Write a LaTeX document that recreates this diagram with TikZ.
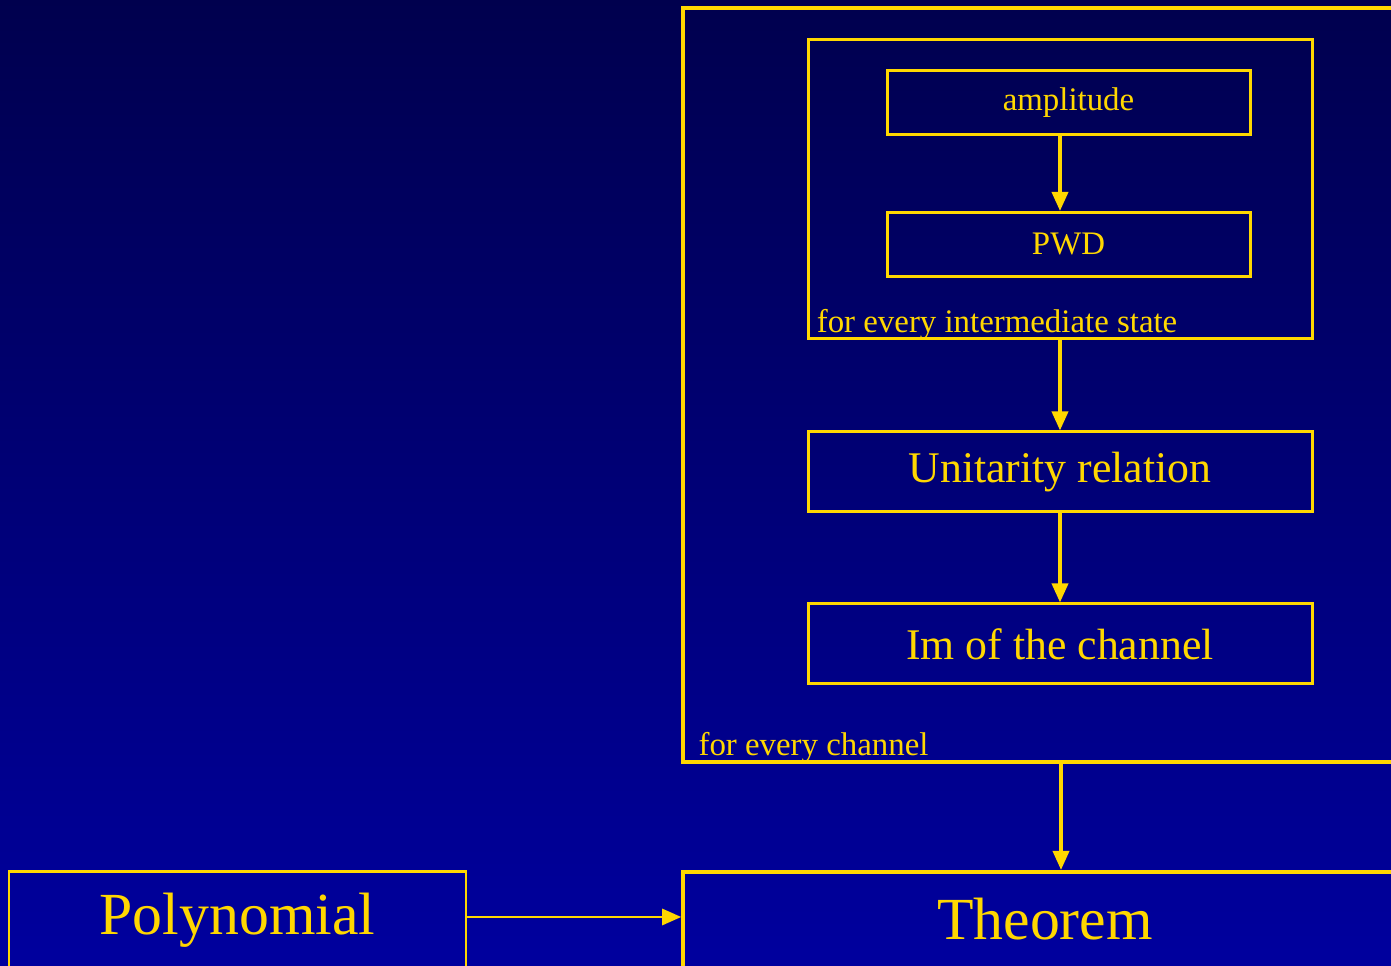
\documentclass[tikz,border=0pt]{standalone}
\usepackage{fontspec}
\setmainfont{Liberation Serif}
\usepackage{xcolor}
\usetikzlibrary{arrows.meta}
\definecolor{gold}{RGB}{255,215,0}
\definecolor{navytop}{RGB}{0,0,78}
\definecolor{navybot}{RGB}{0,0,158}

\begin{document}
\begin{tikzpicture}[
    box/.style={draw=gold, line width=1.7pt, inner sep=0pt, text=gold},
    arr/.style={-{Triangle[length=0.38cm, width=0.32cm]}, draw=gold, line width=2pt},
    txtsmall/.style={text=gold, font=\fontsize{18.7}{22}\selectfont},
    txtmid/.style={font=\fontsize{24.9}{30}\selectfont},
    txtbig/.style={font=\fontsize{34}{40}\selectfont}
]
    \fill[top color=navytop, bottom color=navybot] (0,0) rectangle (27.82,19.32);
    \useasboundingbox (0,0) rectangle (27.82,19.32);
    \clip (0,0) rectangle (27.82,19.32);

    % for every channel
    \node[box, line width=2pt, minimum width=15.12cm, minimum height=15.08cm] (chanbox) at (21.22,11.62) {};
    \node[txtsmall, anchor=base west, inner sep=0pt] (chanlbl) at ([xshift=0.34cm, yshift=0.16cm]chanbox.south west) {for every channel};

    % for every intermediate state
    \node[box, minimum width=10.08cm, minimum height=5.98cm] (statebox) at (21.2,15.53) {};
    \node[txtsmall, anchor=base west, inner sep=0pt] (statelbl) at ([xshift=0.2cm, yshift=0.16cm]statebox.south west) {for every intermediate state};

    \node[box, txtsmall, minimum width=7.26cm, minimum height=1.28cm] (amp) at (21.37,17.26) {amplitude};
    \node[box, txtsmall, minimum width=7.26cm, minimum height=1.28cm] (pwd) at (21.37,14.43) {PWD};

    \node[box, txtmid, minimum width=10.08cm, minimum height=1.6cm] (unit) at (21.2,9.88) {Unitarity relation};
    \node[box, txtmid, minimum width=10.08cm, minimum height=1.6cm] (imch) at (21.2,6.44) {Im of the channel};

    \node[box, txtbig, line width=2pt, anchor=north, minimum width=14.48cm, text height=1.36cm, text depth=1cm] (theo) at (20.9,1.92) {Theorem};
    \node[box, txtbig, anchor=north, minimum width=9.14cm, text height=1.26cm, text depth=1cm] (poly) at (4.75,1.92) {Polynomial};

    \draw[arr] (amp.south -| statebox.center) -- (pwd.north -| statebox.center);
    \draw[arr] (statebox.south) -- (unit.north);
    \draw[arr] (unit.south) -- (imch.north);
    \draw[arr] (chanbox.south) -- (chanbox.south |- theo.north);
    \draw[arr, line width=1.6pt] ([yshift=-0.94cm]poly.north east) -- ([yshift=-0.94cm]poly.north east -| theo.west);
\end{tikzpicture}
\end{document}
